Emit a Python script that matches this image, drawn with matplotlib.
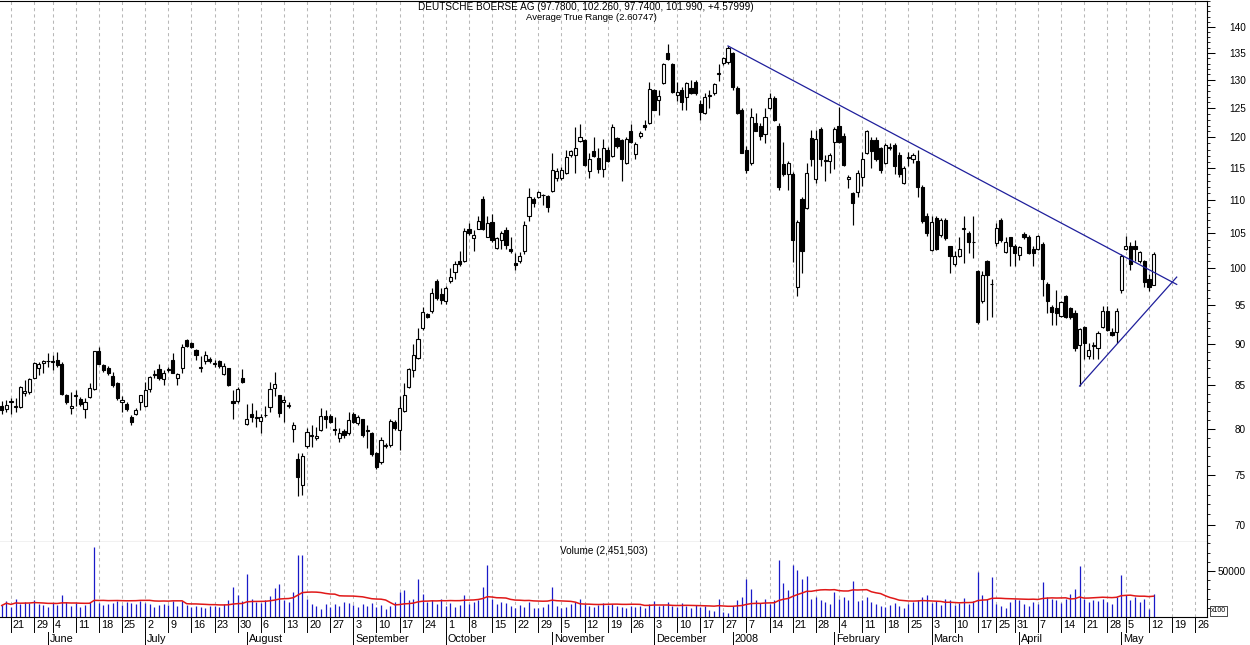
import numpy as np
import pandas as pd
import matplotlib
matplotlib.use("Agg")
import matplotlib.pyplot as plt
import matplotlib.transforms as mtransforms
from matplotlib.lines import Line2D
from matplotlib.ticker import FixedLocator, NullFormatter, FuncFormatter

plt.rcParams['font.family'] = ['Liberation Sans', 'DejaVu Sans']

# ---------------- data (trading days from 2007-05-17 to 2008-05-13) ----------------
first_day = '2007-05-17'
holidays = ['2007-05-28', '2007-12-24', '2007-12-25', '2007-12-26', '2007-12-31',
            '2008-01-01', '2008-03-21', '2008-03-24', '2008-05-01']
# the chart merges the two holiday weeks around new year into one labelled week
merged_week_days = ['2008-01-02']

opens = [
    82.6, 82.2,
    83.0, 82.4, 82.5, 84.1, 84.2,
    85.9, 87.1, 87.7, 87.85,
    87.8, 88.0, 87.5, 83.9, 82.3,
    83.7, 83.4, 82.2, 83.6, 84.6,
    89.2, 87.4, 87.1, 86.1, 85.3,
    83.0, 82.8, 81.3, 81.7, 83.0,
    82.6, 84.5, 86.2, 86.9, 85.7,
    86.8, 88.0, 85.8, 87.1, 90.5,
    90.2, 89.3, 87.1, 87.9, 88.2,
    87.6, 87.9, 86.3, 87.0, 83.1,
    83.1, 85.8, 80.5, 81.7, 81.2,
    80.9, 81.5, 82.4, 84.7, 83.8,
    83.0, 82.6, 80.0, 76.7, 74.0,
    78.1, 79.2, 79.0, 79.9, 81.4,
    81.4, 80.0, 79.0, 79.8, 79.5,
    81.7, 80.6, 81.1, 79.8, 79.5,
    77.3, 76.4, 78.1, 78.2, 80.7,
    79.9, 82.0, 84.8, 86.8, 88.3,
    92.0, 93.8, 94.2, 98.2, 96.5,
    95.5, 98.3, 99.5, 101.1, 101.0,
    105.7, 104.3, 105.7, 110.1, 104.5,
    106.7, 102.9, 104.0, 105.5, 102.7,
    100.8, 101.0, 102.5, 107.6, 110.1,
    110.5, 110.8, 110.6, 111.4, 113.4,
    113.4, 114.2, 117.1, 117.1, 119.4,
    119.6, 114.6, 117.7, 116.6, 114.8,
    118.0, 117.0, 119.9, 119.6, 115.8,
    121.1, 117.3, 120.2, 122.1, 122.4,
    128.2, 126.5, 129.4, 134.9, 132.9,
    127.3, 128.2, 127.0, 128.5, 129.7,
    125.8, 124.1, 127.2, 127.6, 131.1,
    133.1, 133.3,
    134.9, 128.6, 124.7,
    118.0, 115.8, 122.4, 122.0, 120.6,
    125.1, 126.8, 122.0, 115.7, 114.0,
    114.0, 97.5, 110.1, 108.8, 119.9,
    113.2, 121.5, 116.2, 116.2, 119.3,
    122.0, 120.3, 113.2, 111.1, 111.2,
    113.5, 117.5, 119.6, 119.6, 118.2,
    115.8, 118.3, 118.7, 117.1, 112.6,
    116.6, 116.4, 116.2, 112.0, 107.5,
    102.6, 107.2, 104.7, 107.0, 103.1,
    100.6, 101.8, 105.7, 105.0, 103.7,
    99.6, 95.5, 101.0, 97.8,
    103.6, 107.0, 102.3, 104.4,
    103.1, 101.9, 104.9, 104.4, 102.8,
    102.8, 103.5, 97.9, 94.8, 94.7,
    93.6, 96.2, 94.6, 94.0, 89.9,
    92.2, 88.5, 89.8, 89.5, 92.2,
    94.2, 91.5, 91.5, 97.0,
    102.7, 103.1, 103.2, 101.1, 101.0,
    98.6, 97.78,
]

highs = [
    83.1, 83.3,
    83.5, 83.5, 84.9, 85.6, 85.8,
    87.8, 87.8, 88.0, 88.9,
    88.6, 89.0, 87.8, 84.0, 84.2,
    84.4, 83.6, 83.5, 85.2, 89.2,
    89.6, 87.6, 87.3, 86.6, 85.4,
    83.7, 83.0, 81.6, 82.3, 83.9,
    85.4, 86.1, 86.8, 87.6, 86.8,
    87.2, 88.9, 86.4, 90.0, 90.7,
    90.3, 89.4, 88.5, 89.1, 88.4,
    88.0, 88.0, 87.7, 87.1, 84.4,
    84.8, 86.9, 82.8, 82.9, 82.1,
    81.7, 82.6, 85.4, 86.6, 83.9,
    83.7, 83.0, 80.8, 77.3, 77.3,
    80.1, 80.4, 80.2, 82.3, 82.1,
    81.7, 81.3, 80.1, 80.0, 81.9,
    81.9, 81.5, 81.1, 80.4, 79.6,
    77.5, 79.1, 78.4, 81.1, 81.0,
    83.7, 85.2, 87.0, 90.0, 92.0,
    94.8, 94.0, 97.3, 98.5, 97.3,
    97.6, 100.0, 101.0, 102.4, 105.8,
    106.6, 105.5, 107.5, 110.6, 107.5,
    107.8, 104.5, 105.3, 105.9, 104.5,
    102.2, 102.3, 106.8, 111.8, 110.5,
    111.4, 110.9, 110.8, 117.4, 115.0,
    115.2, 117.9, 118.0, 121.7, 122.3,
    119.8, 117.4, 120.0, 118.2, 119.8,
    118.4, 122.3, 120.1, 119.7, 120.1,
    122.3, 119.2, 121.0, 122.9, 129.7,
    128.4, 128.2, 133.1, 136.6, 133.1,
    129.7, 128.8, 129.7, 129.9, 130.0,
    126.4, 127.6, 128.2, 129.4, 133.0,
    134.3, 136.3,
    135.2, 128.9, 125.0,
    118.6, 125.0, 124.1, 122.5, 125.0,
    127.7, 127.2, 122.5, 119.3, 116.1,
    114.3, 107.0, 110.5, 115.8, 121.2,
    121.2, 121.7, 117.1, 117.4, 121.7,
    125.2, 120.8, 113.9, 111.3, 114.7,
    117.6, 121.3, 120.0, 120.0, 118.4,
    119.0, 119.0, 119.0, 117.6, 115.3,
    117.6, 117.5, 117.9, 112.3, 108.0,
    107.5, 107.5, 107.3, 107.2, 103.2,
    102.4, 104.5, 107.5, 105.3, 107.6,
    99.8, 99.6, 101.2, 98.6,
    106.5, 107.3, 104.5, 104.5,
    103.4, 103.2, 105.2, 104.8, 103.1,
    104.8, 103.8, 98.1, 95.0, 97.0,
    95.6, 96.4, 94.8, 94.4, 92.0,
    92.3, 90.1, 90.3, 91.6, 94.9,
    94.9, 92.0, 94.7, 102.0,
    104.6, 103.8, 104.0, 102.4, 101.2,
    99.2, 102.26,
]

lows = [
    81.7, 81.9,
    81.7, 81.9, 82.3, 83.7, 84.0,
    85.8, 86.2, 86.4, 87.2,
    86.8, 87.2, 83.8, 82.8, 81.7,
    82.6, 82.6, 81.2, 83.5, 84.4,
    87.5, 86.6, 86.2, 84.8, 83.3,
    81.9, 82.0, 80.4, 81.6, 82.1,
    82.5, 84.2, 85.8, 85.6, 85.0,
    86.6, 86.4, 85.0, 86.5, 89.6,
    89.5, 88.0, 86.6, 87.6, 87.7,
    87.2, 87.1, 86.2, 84.9, 81.1,
    82.9, 85.2, 80.4, 80.8, 80.2,
    79.5, 81.3, 81.9, 83.7, 81.3,
    80.7, 82.3, 78.5, 72.8, 72.9,
    77.9, 78.0, 78.7, 79.8, 80.1,
    80.6, 79.3, 78.5, 79.0, 79.3,
    80.6, 80.4, 79.1, 77.9, 77.0,
    75.6, 76.2, 77.9, 78.0, 79.9,
    77.7, 81.9, 84.7, 86.0, 88.2,
    91.8, 93.3, 94.0, 95.7, 95.2,
    95.2, 98.0, 98.5, 100.4, 100.9,
    104.8, 102.4, 105.6, 105.5, 104.4,
    103.8, 102.7, 102.8, 102.8, 102.2,
    99.8, 100.7, 102.0, 106.8, 109.0,
    110.3, 109.3, 108.2, 111.3, 113.0,
    113.1, 114.0, 116.8, 114.2, 119.2,
    115.4, 113.4, 116.8, 114.2, 113.6,
    115.9, 116.8, 118.3, 113.0, 115.6,
    119.1, 116.5, 119.9, 121.2, 122.2,
    124.6, 123.8, 129.2, 133.6, 127.7,
    126.2, 124.7, 124.7, 127.4, 127.3,
    122.9, 124.0, 125.1, 127.3, 129.8,
    132.8, 133.0,
    128.2, 123.9, 117.4,
    114.2, 115.5, 121.0, 119.6, 119.1,
    124.9, 122.7, 111.5, 113.8, 111.5,
    100.9, 96.3, 99.4, 108.6, 115.3,
    112.6, 115.3, 112.9, 114.2, 114.8,
    119.1, 115.3, 111.8, 106.3, 110.5,
    112.2, 117.3, 115.0, 116.2, 114.2,
    115.6, 117.9, 114.0, 113.5, 112.4,
    115.3, 115.8, 110.5, 106.5, 104.6,
    102.4, 102.6, 104.5, 104.0, 99.4,
    100.4, 101.6, 100.8, 102.2, 101.4,
    92.6, 95.3, 93.1, 93.5,
    103.1, 103.8, 102.2, 100.3,
    100.3, 101.2, 104.2, 102.0, 100.3,
    102.6, 96.3, 94.0, 92.4, 92.4,
    93.4, 93.3, 93.2, 89.1, 84.9,
    88.2, 88.1, 88.2, 88.2, 92.0,
    91.7, 91.0, 90.1, 96.7,
    102.6, 99.8, 101.0, 100.8, 97.4,
    96.9, 97.74,
]

closes = [
    82.1, 82.7,
    83.1, 82.6, 84.8, 84.3, 85.7,
    87.7, 87.5, 87.9, 87.95,
    87.9, 87.4, 84.0, 83.0, 82.6,
    83.8, 82.8, 83.0, 84.7, 89.1,
    87.6, 86.8, 86.5, 85.0, 83.5,
    83.3, 82.2, 80.8, 82.1, 83.8,
    84.4, 86.0, 86.3, 85.9, 86.5,
    86.9, 86.5, 86.3, 89.7, 89.8,
    89.7, 88.6, 87.15, 88.6, 87.9,
    87.65, 87.3, 87.3, 85.0, 82.9,
    84.6, 85.4, 81.1, 81.3, 81.3,
    81.3, 81.6, 84.5, 85.1, 81.8,
    83.3, 82.65, 80.4, 74.8, 77.0,
    79.6, 79.25, 79.2, 81.4, 81.1,
    80.7, 79.9, 79.5, 79.3, 81.0,
    80.7, 81.3, 79.3, 79.9, 77.2,
    75.9, 78.8, 78.2, 80.9, 80.1,
    82.3, 83.9, 86.9, 88.6, 90.6,
    94.1, 93.5, 96.7, 95.9, 95.7,
    97.3, 98.8, 100.6, 100.6, 105.3,
    105.1, 104.7, 106.8, 105.7, 106.6,
    104.0, 104.3, 105.1, 103.3, 102.4,
    100.5, 101.7, 106.3, 110.4, 109.5,
    111.3, 110.75, 109.0, 114.7, 114.5,
    114.7, 116.8, 117.7, 118.3, 120.0,
    115.5, 116.5, 117.0, 114.9, 118.2,
    116.1, 121.8, 118.5, 116.5, 119.7,
    119.3, 118.9, 120.7, 121.7, 128.3,
    124.7, 127.1, 133.0, 133.8, 127.9,
    127.8, 126.0, 129.4, 127.6, 127.6,
    124.3, 126.9, 127.3, 129.2, 131.2,
    134.0, 136.0,
    128.7, 124.1, 117.5,
    114.7, 123.4, 121.1, 120.2, 123.4,
    126.8, 122.9, 112.0, 114.0, 115.8,
    104.0, 106.7, 102.5, 114.2, 116.5,
    119.7, 116.5, 116.3, 117.1, 121.4,
    119.3, 115.5, 113.6, 109.6, 114.2,
    116.4, 121.1, 117.7, 116.5, 114.7,
    118.7, 118.4, 115.3, 114.0, 115.0,
    116.7, 117.1, 112.0, 106.8, 105.0,
    106.7, 102.8, 107.0, 104.3, 101.7,
    101.8, 102.7, 105.8, 103.8, 103.8,
    92.8, 99.1, 99.1, 97.9,
    105.8, 104.0, 103.8, 103.1,
    102.2, 103.0, 104.5, 102.2, 102.2,
    104.6, 98.6, 95.5, 94.1, 94.0,
    95.4, 93.5, 93.5, 89.5, 91.9,
    90.2, 89.3, 89.9, 91.4, 94.2,
    91.8, 91.2, 94.2, 101.8,
    103.1, 100.6, 102.7, 102.3, 98.1,
    97.4, 101.99,
]

volumes = [  # in units of 100 shares
    12500, 17500,
    11000, 20000, 14000, 16000, 15500,
    19000, 14000, 12500, 11000,
    15000, 13000, 24000, 16000, 12000,
    15500, 11000, 13000, 16000, 76000,
    15000, 12500, 14500, 15000, 17500,
    12500, 16000, 15000, 14000, 17500,
    15000, 14000, 11000, 12500, 14500,
    12500, 17500, 12000, 17000, 13000,
    11000, 12000, 10500, 9500, 12000,
    12000, 10500, 14000, 18000, 33000,
    24000, 17000, 47000, 20000, 16000,
    15000, 18000, 23000, 32000, 36000,
    18000, 16000, 27500, 67000, 67000,
    20000, 14000, 12000, 9000, 14000,
    11000, 14000, 12000, 16000, 15000,
    13000, 11000, 14000, 12000, 15000,
    11000, 13000, 9000, 12000, 16000,
    27500, 29000, 18000, 20000, 41000,
    25000, 16000, 18000, 14000, 20000,
    12000, 15000, 11000, 13000, 24000,
    14000, 16000, 19000, 33000, 56000,
    20000, 14000, 16000, 15000, 12000,
    10000, 13000, 11000, 16000, 10000,
    9500, 10500, 14000, 33000, 12000,
    10000, 11000, 14000, 16000, 20000,
    14000, 12000, 10500, 13000, 15000,
    13000, 14500, 12000, 11000, 9500,
    12000, 10500, 11500, 10000, 14000,
    17000, 12000, 13000, 16000, 12000,
    11000, 15000, 12000, 10000, 13000,
    11000, 12000, 8000, 6000, 20000,
    5000, 4500,
    12000, 18000, 22000,
    41000, 30000, 18000, 15000, 20000,
    14000, 18000, 62000, 37000, 29000,
    56500, 51000, 41000, 44500, 20000,
    22000, 18000, 16000, 14000, 27500,
    20000, 22000, 18000, 39000, 17000,
    18000, 22000, 16000, 14000, 12000,
    10500, 13000, 15000, 12000, 10000,
    14000, 16000, 19000, 22000, 24000,
    15000, 17000, 13000, 20000, 18000,
    13000, 15000, 21000, 14000, 17000,
    49000, 24000, 20000, 43800,
    14000, 12000, 9500, 16000,
    20000, 19000, 14000, 12000, 16000,
    14000, 38400, 22000, 20000, 18000,
    15000, 20000, 25000, 30000, 55400,
    20000, 16000, 18000, 17000, 20000,
    16000, 14000, 22000, 45600,
    24000, 18000, 22000, 16000, 20000,
    9000, 24515,
]

# trend lines: (date, price)
resistance = [('2007-12-28', 136.3), ('2008-05-20', 97.8)]
support = [('2008-04-18', 84.9), ('2008-05-20', 98.8)]

price_ticks = [70, 75, 80, 85, 90, 95, 100, 105, 110, 115, 120, 125, 130, 135, 140]
title_main = "DEUTSCHE BOERSE AG (97.7800, 102.260, 97.7400, 101.990, +4.57999)"
title_atr = "Average True Range (2.60747)"
vol_title = "Volume (2,451,503)"
month_names = {1: '2008', 2: 'February', 3: 'March', 4: 'April', 5: 'May', 6: 'June',
               7: 'July', 8: 'August', 9: 'September', 10: 'October', 11: 'November',
               12: 'December'}

# ---------------- calendar ----------------
cal = pd.bdate_range('2007-05-14', '2008-06-06')
cal = cal[~cal.isin(pd.to_datetime(holidays))]
start = cal.get_loc(pd.Timestamp(first_day))
pos_all = np.arange(len(cal)) - start
date_pos = {d: p for d, p in zip(cal, pos_all)}
skip_week = set(pd.to_datetime(merged_week_days))

O = np.array(opens); Hh = np.array(highs); Ll = np.array(lows); C = np.array(closes)
V = np.array(volumes, dtype=float)
n = len(C)
x = np.arange(n)

XMIN, XMAX = -0.37, 260.55

# week starts and month starts
week_starts = []
month_starts = []
for i, d in enumerate(cal):
    if i == 0:
        continue
    prev = cal[i - 1]
    if d.isocalendar()[1] != prev.isocalendar()[1] and d not in skip_week:
        week_starts.append((pos_all[i], d))
    if d.month != prev.month:
        month_starts.append((pos_all[i], d))

# ---------------- figure ----------------
W, Hpx = 1250, 645
fig = plt.figure(figsize=(W / 100, Hpx / 100), dpi=100, facecolor='white')


def fy(py):
    return 1 - py / Hpx


ax = fig.add_axes([0, fy(542), 1207 / W, (542 - 1) / Hpx])
axv = fig.add_axes([0, fy(617), 1207 / W, (617 - 542) / Hpx], sharex=ax)

grid_kw = dict(color='#b8b8b8', lw=0.75, ls=(0, (3, 3)), zorder=0)
for p, d in week_starts:
    if XMIN <= p <= XMAX:
        ax.axvline(p, **grid_kw)
        axv.axvline(p, **grid_kw)

# candles
up = C >= O
lo_b = np.minimum(O, C)
hi_b = np.maximum(O, C)
ax.vlines(x, Ll, Hh, color='black', lw=0.85, zorder=2)
ax.bar(x, np.maximum(hi_b - lo_b, 0.03), bottom=lo_b, width=0.68,
       color=np.where(up, 'white', 'black'), edgecolor='black', linewidth=0.8, zorder=3)

# trend lines
for line in (resistance, support):
    xs = [date_pos[pd.Timestamp(d)] for d, _ in line]
    ys = [v for _, v in line]
    ax.plot(xs, ys, color='#1f1f9c', lw=0.9, zorder=4)

ax.set_yscale('log')
ax.set_ylim(68.33, 145.1)
ax.set_xlim(XMIN, XMAX)
ax.yaxis.tick_right()
ax.yaxis.set_major_locator(FixedLocator(price_ticks))
ax.yaxis.set_major_formatter(FuncFormatter(lambda v, p: f'{v:.0f}'))
ax.yaxis.set_minor_locator(FixedLocator(np.arange(69, 146, 1)))
ax.yaxis.set_minor_formatter(NullFormatter())
ax.tick_params(axis='y', which='major', length=5.5, width=0.75, labelsize=7.2, pad=22.5)
ax.tick_params(axis='y', which='minor', length=2.5, width=0.6)
ax.tick_params(axis='x', which='both', bottom=False, labelbottom=False)
for t in ax.get_yticklabels():
    t.set_horizontalalignment('right')
ax.spines['left'].set_visible(False)
for s in ('top', 'right', 'bottom'):
    ax.spines[s].set_linewidth(0.8)

# volume
axv.vlines(x, 0, V, color='#1a1ac8', lw=0.9, zorder=2)
ma = pd.Series(V).rolling(20, min_periods=1).mean().values
axv.plot(x, ma, color='#e01818', lw=1.1, zorder=3)
axv.set_ylim(0, 81500)
axv.set_xlim(XMIN, XMAX)
axv.yaxis.tick_right()
axv.yaxis.set_major_locator(FixedLocator([50000]))
axv.yaxis.set_major_formatter(FuncFormatter(lambda v, p: f'{v:.0f}'))
axv.yaxis.set_minor_locator(FixedLocator(np.arange(10000, 81000, 10000)))
axv.yaxis.set_minor_formatter(NullFormatter())
axv.tick_params(axis='y', which='major', length=5.5, width=0.75, labelsize=7.2, pad=2)
axv.tick_params(axis='y', which='minor', length=2.5, width=0.6)
axv.tick_params(axis='x', which='both', bottom=False, labelbottom=False)
axv.spines['left'].set_visible(False)
axv.spines['top'].set_visible(False)
for s in ('right', 'bottom'):
    axv.spines[s].set_linewidth(0.8)

# date rows below volume panel
btr = mtransforms.blended_transform_factory(axv.transData, fig.transFigure)
txt_tr = mtransforms.offset_copy(btr, fig=fig, x=2, y=0, units='dots')
for p, d in week_starts:
    if -4 <= p <= XMAX:
        fig.add_artist(Line2D([p, p], [fy(617), fy(632)], transform=btr, color='black', lw=0.7))
        fig.text(p, fy(625.5), str(d.day), transform=txt_tr, ha='left', va='center', fontsize=7.8)
for p, d in month_starts:
    if XMIN <= p <= XMAX:
        fig.add_artist(Line2D([p, p], [fy(632), fy(645)], transform=btr, color='black', lw=0.7))
        fig.text(p, fy(639), month_names[d.month], transform=txt_tr, ha='left', va='center', fontsize=7.8)

# titles (ATR label set just below the price title so the two do not collide)
fig.text(418 / W, fy(6.5), title_main, ha='left', va='center', fontsize=7.2)
fig.text(526 / W, fy(17), title_atr, ha='left', va='center', fontsize=6.8)
fig.text(604 / W, fy(551), vol_title, ha='center', va='center', fontsize=7.2)
fig.text(1211 / W, fy(611), 'x100', ha='left', va='center', fontsize=5,
         bbox=dict(boxstyle='square,pad=0.15', fc='white', ec='black', lw=0.5))

fig.savefig('out.png', dpi=100, facecolor='white')
